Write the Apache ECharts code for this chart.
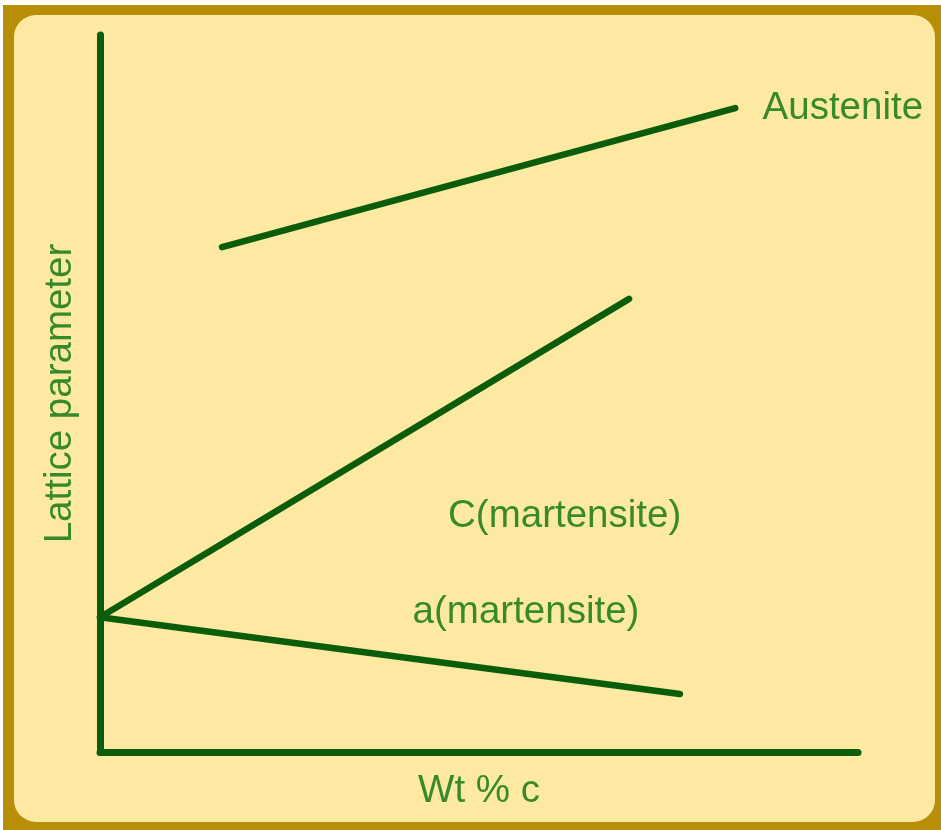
<!DOCTYPE html>
<html>
<head>
<meta charset="utf-8">
<script src="https://cdn.jsdelivr.net/npm/echarts@6/dist/echarts.min.js"></script>
<style>
  body { margin: 0; background: #ffffff; }
  #frame { position: absolute; left: 3px; top: 5px; width: 938px; height: 825px; background: #b88e06; }
  #panel { position: absolute; left: 14px; top: 15px; width: 921px; height: 807px; background: #fde9a2; border-radius: 22px; }
  #chart { position: absolute; left: 0; top: 0; width: 941px; height: 830px; }
</style>
</head>
<body>
<div id="frame"></div>
<div id="panel"></div>
<div id="chart"></div>
<script>
// line end points, in axis units (0..100 on both axes)
const austenite = [[16.1, 70.4], [83.8, 89.8]];
const cMartensite = [[0, 18.8], [69.8, 63.2]];
const aMartensite = [[0, 18.8], [76.5, 8.1]];

// label texts and where they sit
const labelNames = ['Austenite', 'C(martensite)', 'a(martensite)'];
const labelPos = [[98.0, 89.8], [61.3, 32.8], [56.2, 19.5]];

const lineColor = '#0b5d0b';
const textColor = '#378a29';
const font = 'Liberation Sans, Arial, sans-serif';
const fontSize = 38.5;

const chart = echarts.init(document.getElementById('chart'));

const lineSeries = (data) => ({
  type: 'line',
  data: data,
  symbol: 'none',
  silent: true,
  lineStyle: { width: 6.5, color: lineColor, cap: 'round' }
});

chart.setOption({
  backgroundColor: 'transparent',
  animation: false,
  grid: { left: 100, right: 83, top: 35, bottom: 78 },
  xAxis: {
    type: 'value', min: 0, max: 100,
    name: 'Wt % c', nameLocation: 'middle', nameGap: 20,
    nameTextStyle: { color: textColor, fontSize: fontSize, fontFamily: font },
    axisLine: { lineStyle: { color: lineColor, width: 7, cap: 'round' } },
    axisTick: { show: false }, axisLabel: { show: false }, splitLine: { show: false }
  },
  yAxis: {
    type: 'value', min: 0, max: 100,
    name: 'Lattice parameter', nameLocation: 'middle', nameGap: 20, nameRotate: 90,
    nameTextStyle: { color: textColor, fontSize: fontSize, fontFamily: font },
    axisLine: { show: true, lineStyle: { color: lineColor, width: 7, cap: 'round' } },
    axisTick: { show: false }, axisLabel: { show: false }, splitLine: { show: false }
  },
  series: [
    lineSeries(austenite),
    lineSeries(cMartensite),
    lineSeries(aMartensite),
    {
      type: 'scatter',
      symbolSize: 0,
      silent: true,
      itemStyle: { opacity: 1 },
      data: labelPos.map((p, i) => ({ value: p, name: labelNames[i] })),
      label: {
        show: true, position: 'inside', formatter: '{b}', opacity: 1,
        color: textColor, fontSize: fontSize, fontFamily: font
      }
    }
  ]
});
</script>
</body>
</html>
